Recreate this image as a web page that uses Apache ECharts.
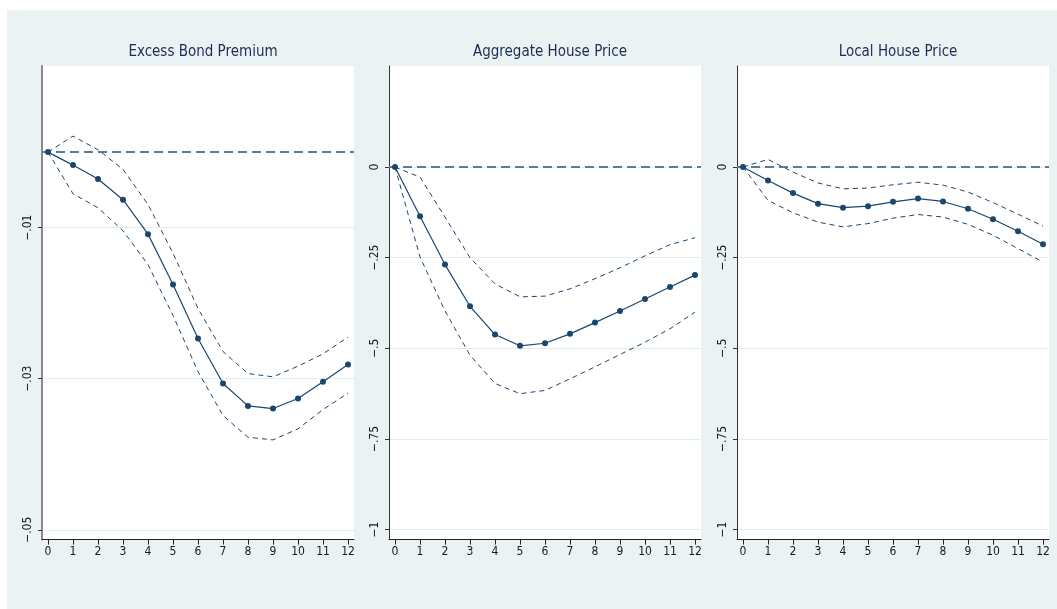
<!DOCTYPE html>
<html>
<head>
<meta charset="utf-8">
<script src="https://cdn.jsdelivr.net/npm/echarts@6/dist/echarts.min.js"></script>
<style>
  html, body { margin: 0; padding: 0; background: #ffffff; }
  #c { position: absolute; left: 7px; top: 10px; width: 1050px; height: 599px; }
</style>
</head>
<body>
<div id="c"></div>
<script>
// ---- data ----
const steps = [0, 1, 2, 3, 4, 5, 6, 7, 8, 9, 10, 11, 12];
const panelTitles = ['Excess Bond Premium', 'Aggregate House Price', 'Local House Price'];

const ebpMean  = [0, -0.00172, -0.00357, -0.0063, -0.01086, -0.01752, -0.02467, -0.03064, -0.0336, -0.03395, -0.03262, -0.03041, -0.02812];
const ebpUpper = [0, 0.00212, 0.00031, -0.00229, -0.00693, -0.01338, -0.02071, -0.0264, -0.02932, -0.02975, -0.02834, -0.02671, -0.0245];
const ebpLower = [0, -0.00551, -0.00737, -0.01041, -0.01488, -0.02163, -0.02905, -0.03488, -0.03775, -0.0381, -0.03664, -0.03408, -0.03192];

const ahpMean  = [0, -0.136, -0.269, -0.384, -0.462, -0.493, -0.486, -0.460, -0.429, -0.397, -0.364, -0.331, -0.298];
const ahpUpper = [0, -0.028, -0.138, -0.250, -0.322, -0.358, -0.356, -0.336, -0.308, -0.278, -0.245, -0.214, -0.195];
const ahpLower = [0, -0.248, -0.397, -0.519, -0.597, -0.625, -0.616, -0.584, -0.551, -0.517, -0.483, -0.446, -0.400];

const lhpMean  = [0, -0.037, -0.072, -0.101, -0.112, -0.108, -0.096, -0.087, -0.095, -0.115, -0.144, -0.177, -0.213];
const lhpUpper = [0, 0.021, -0.014, -0.044, -0.060, -0.058, -0.049, -0.042, -0.050, -0.069, -0.098, -0.130, -0.163];
const lhpLower = [0, -0.092, -0.126, -0.152, -0.165, -0.156, -0.141, -0.131, -0.138, -0.158, -0.188, -0.225, -0.262];

const ebpTicks = [-0.01, -0.03, -0.05];
const ebpTickLabels = ['\u2212.01', '\u2212.03', '\u2212.05'];
const houseTicks = [0, -0.25, -0.5, -0.75, -1];
const houseTickLabels = ['0', '\u2212.25', '\u2212.5', '\u2212.75', '\u22121'];
const ebpRange = [-0.0513, 0.0114];
const houseRange = [-1.0273, 0.2785];

// ---- styles ----
const FONT = "'Liberation Sans Narrow', 'DejaVu Sans Condensed', 'Liberation Sans', sans-serif";
const NAVY = '#1a476f';
const lefts = [35, 382, 730];
const gridW = 312;

const panels = [
  { mean: ebpMean, up: ebpUpper, lo: ebpLower, ticks: ebpTicks, labels: ebpTickLabels, range: ebpRange, axisColor: '#8a8a8a', axisW: 2 },
  { mean: ahpMean, up: ahpUpper, lo: ahpLower, ticks: houseTicks, labels: houseTickLabels, range: houseRange, axisColor: '#333333', axisW: 1 },
  { mean: lhpMean, up: lhpUpper, lo: lhpLower, ticks: houseTicks, labels: houseTickLabels, range: houseRange, axisColor: '#333333', axisW: 1 }
];

const pairs = arr => steps.map((s, i) => [s, arr[i]]);

const grid = [], xAxis = [], yAxis = [], series = [], title = [];
panels.forEach((p, k) => {
  grid.push({ left: lefts[k], width: gridW, top: 56, height: 473.6, show: true, backgroundColor: '#ffffff', borderWidth: 0, containLabel: false });
  title.push({
    text: panelTitles[k], left: lefts[k] + gridW / 2, top: 30, textAlign: 'center',
    textStyle: { fontFamily: FONT, fontSize: 15, fontWeight: 'normal', color: '#1e2c55' }
  });
  xAxis.push({
    type: 'value', gridIndex: k, min: -0.24, max: 12.24,
    axisLine: { show: true, onZero: false, lineStyle: { color: '#222', width: 1 } },
    axisTick: { show: true, customValues: steps, length: 5, lineStyle: { color: '#222' } },
    axisLabel: { customValues: steps, fontFamily: FONT, fontSize: 12, color: '#1a1a1a', margin: 6 },
    splitLine: { show: false }
  });
  yAxis.push({
    type: 'value', gridIndex: k, min: p.range[0], max: p.range[1],
    axisLine: { show: true, onZero: false, lineStyle: { color: p.axisColor, width: p.axisW } },
    axisTick: { show: true, customValues: p.ticks, length: 4, lineStyle: { color: '#333' } },
    axisLabel: {
      customValues: p.ticks, rotate: 90, margin: 8, fontFamily: FONT, fontSize: 12, color: '#1a1a1a',
      formatter: v => { const i = p.ticks.findIndex(t => Math.abs(t - v) < 1e-9); return i >= 0 ? p.labels[i] : ''; }
    },
    splitLine: { show: true, lineStyle: { color: '#e3eced', width: 1 } }
  });
  series.push({
    type: 'line', xAxisIndex: k, yAxisIndex: k, data: pairs(p.up), symbol: 'none',
    lineStyle: { color: NAVY, width: 1, type: [5, 4] }, z: 3, silent: true
  });
  series.push({
    type: 'line', xAxisIndex: k, yAxisIndex: k, data: pairs(p.lo), symbol: 'none',
    lineStyle: { color: NAVY, width: 1, type: [5, 4] }, z: 3, silent: true
  });
  series.push({
    type: 'line', xAxisIndex: k, yAxisIndex: k, data: pairs(p.mean),
    symbol: 'circle', symbolSize: 6, itemStyle: { color: NAVY }, lineStyle: { color: NAVY, width: 1.2 }, z: 4, silent: true,
    markLine: {
      silent: true, symbol: 'none', label: { show: false },
      lineStyle: { color: '#5c7b97', width: 2, type: [9, 5] },
      data: [{ yAxis: 0 }], z: 2
    }
  });
});

const chart = echarts.init(document.getElementById('c'), null, { renderer: 'canvas' });
chart.setOption({
  backgroundColor: '#eaf2f3',
  animation: false,
  title, grid, xAxis, yAxis, series
});
</script>
</body>
</html>
